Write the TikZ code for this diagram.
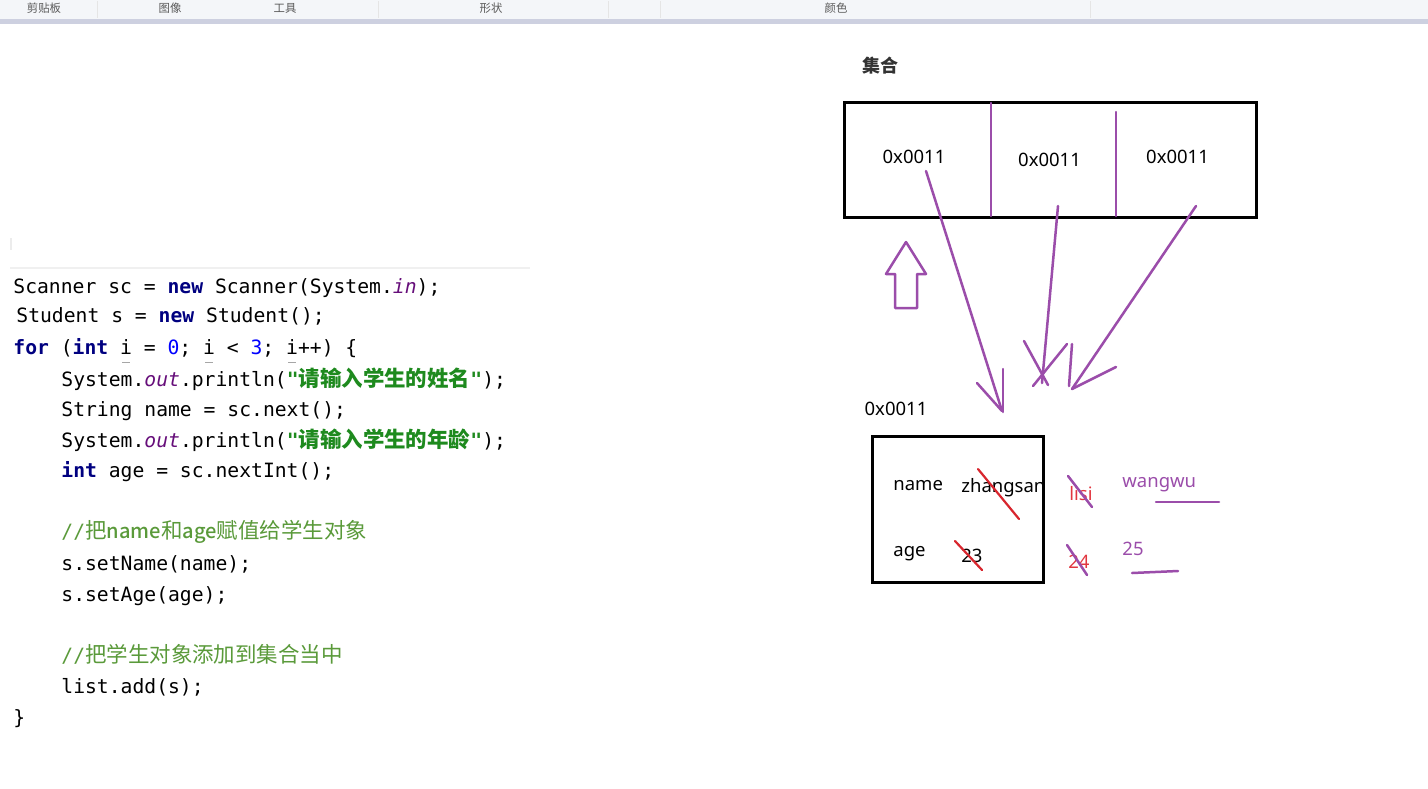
\documentclass[tikz,border=0pt]{standalone}
\usepackage{fontspec}
\setmainfont{Noto Sans}
\setmonofont{DejaVu Sans Mono}
\newfontfamily\cjk{Noto Sans CJK SC}[Scale=1.09]
\newfontfamily\cjkui{Noto Sans CJK SC}
\newfontfamily\cjkmed{Noto Sans CJK SC Medium}[Scale=1.02]
\definecolor{kwc}{HTML}{000080}
\definecolor{numc}{HTML}{0000FF}
\definecolor{fieldc}{HTML}{660E7A}
\definecolor{strc}{HTML}{1E8A1E}
\definecolor{comc}{HTML}{5A9A3A}
\definecolor{pen}{HTML}{9B4DAA}
\definecolor{redpen}{HTML}{D8262E}
\definecolor{redtxt}{HTML}{E2363F}
\definecolor{barbg}{HTML}{F4F6F9}
\definecolor{barband}{HTML}{CDD0E0}
\definecolor{bartxt}{HTML}{5A5A5A}
\newcommand\kwd[1]{\textcolor{kwc}{\bfseries #1}}
\newcommand\numd[1]{\textcolor{numc}{#1}}
\newcommand\fld[1]{\textcolor{fieldc}{\itshape #1}}
\newcommand\strd[1]{\textcolor{strc}{\bfseries"{\cjk\bfseries #1}"}}
\newcommand\comd[1]{\textcolor{comc}{#1}}
\begin{document}
\begin{tikzpicture}[x=0.5pt,y=-0.5pt,
  codeline/.style={anchor=base west,inner sep=0pt,font=\fontsize{9.85}{12}\selectfont\ttfamily},
  lbl/.style={inner sep=0pt,font=\fontsize{9.25}{11}\selectfont},
  lblb/.style={anchor=base west,inner sep=0pt,font=\fontsize{9.25}{11}\selectfont},
  bartext/.style={inner sep=0pt,text=bartxt,font=\cjkui\fontsize{5.7}{6}\selectfont},
  penline/.style={draw=pen,line width=1.25pt,line cap=round},
  redline/.style={draw=redpen,line width=1.1pt,line cap=round},
  boxline/.style={draw=black,line width=1.5pt},
  uline/.style={draw=gray!70,line width=0.6pt}]
\useasboundingbox (0,0) rectangle (1428,788);
\fill[white] (0,0) rectangle (1428,788);
% toolbar
\fill[barbg] (0,0) rectangle (1428,19);
\fill[barband] (0,19) rectangle (1428,24);
\foreach \sx in {97,378,608,660,1090} \draw[gray!20,line width=0.4pt] (\sx,1) -- (\sx,18);
\node[bartext] (t1) at (44,8) {剪贴板};
\node[bartext] (t2) at (170,8) {图像};
\node[bartext] (t3) at (285,8) {工具};
\node[bartext] (t4) at (491,8) {形状};
\node[bartext] (t5) at (836,8) {颜色};
% faint code frame
\draw[gray!12,line width=0.8pt] (10,268) -- (530,268);
\draw[gray!15,line width=0.6pt] (11,238) -- (11,250);
% code
\node[codeline] (c1) at (13,293) {Scanner sc = \kwd{new} Scanner(System.\fld{in});};
\node[codeline] (c2) at (16,322) {Student s = \kwd{new} Student();};
\node[codeline] (c3) at (13,354) {\kwd{for} (\kwd{int} i = \numd{0}; i < \numd{3}; i++) \{};
\draw[uline] (122,362.5) -- (130,362.5);
\draw[uline] (205,362.5) -- (213,362.5);
\draw[uline] (288,362.5) -- (296,362.5);
\node[codeline] (c4) at (61,386) {System.\fld{out}.println(\strd{请输入学生的姓名});};
\node[codeline] (c5) at (61,416) {String name = sc.next();};
\node[codeline] (c6) at (61,447) {System.\fld{out}.println(\strd{请输入学生的年龄});};
\node[codeline] (c7) at (61,477) {\kwd{int} age = sc.nextInt();};
\node[codeline] (c8) at (61,538) {\comd{//{\cjk 把{\cjkmed name}和{\cjkmed age}赋值给学生对象}}};
\node[codeline] (c9) at (61,570) {s.setName(name);};
\node[codeline] (c10) at (61,601) {s.setAge(age);};
\node[codeline] (c11) at (61,662) {\comd{//{\cjk 把学生对象添加到集合当中}}};
\node[codeline] (c12) at (61,693) {list.add(s);};
\node[codeline] (c13) at (13,724) {\}};
% collection
\node[inner sep=0pt,font=\cjkui\bfseries\fontsize{9}{10}\selectfont,text=black!80] (jihe) at (880.5,66) {集合};
\draw[boxline] (844,102) rectangle (1256,217);
\draw[penline] (991,103) -- (991,216);
\draw[penline] (1116,112) -- (1116,216);
\node[lbl] (a1) at (914,157) {0x0011};
\node[lbl] (a2) at (1049.5,160) {0x0011};
\node[lbl] (a3) at (1177.5,157) {0x0011};
% hollow up arrow
\draw[penline,line join=round] (906,242) -- (926,274) -- (917,274) -- (917,308) -- (895,308) -- (895,274) -- (886,274) -- cycle;
% arrows to object
\coordinate (s1) at (926,171);
\coordinate (e1) at (1002,411);
\draw[penline] (s1) -- (e1);
\draw[penline] (977,383) -- (e1);
\draw[penline] (1003,369) -- (1003,412);
\coordinate (s2) at (1058,206);
\coordinate (e2) at (1042,383);
\draw[penline] (s2) -- (e2);
\draw[penline] (1024,341) -- (1048,385);
\draw[penline] (1067,344) -- (1033,386);
\coordinate (s3) at (1196,206);
\coordinate (e3) at (1072,389);
\draw[penline] (s3) -- (e3);
\draw[penline] (1116,367) -- (e3);
\draw[penline] (1072,344) -- (1069,386);
% object
\node[lbl] (addr) at (896,409) {0x0011};
\draw[boxline] (872,436) rectangle (1043,582);
\node[lblb] (nm) at (893,490) {name};
\node[lblb] (zs) at (961,492) {zhangsan};
\draw[redline] (978,469) -- (1019,519);
\node[lblb] (ag) at (893,556) {age};
\node[lblb] (v23) at (961,562) {23};
\draw[redline] (955,541) -- (982,570);
\node[lblb,text=redtxt] (ls) at (1069,500) {lisi};
\draw[penline] (1068,476) -- (1092,507);
\node[lblb,text=redtxt] (v24) at (1068,568) {24};
\draw[penline] (1067,545) -- (1087,575);
\node[lblb,text=pen] (ww) at (1122,487) {wangwu};
\draw[penline] (1156,502) -- (1219,502);
\node[lblb,text=pen] (v25) at (1122,555) {25};
\draw[penline] (1132,573) -- (1178,571);
\end{tikzpicture}
\end{document}
